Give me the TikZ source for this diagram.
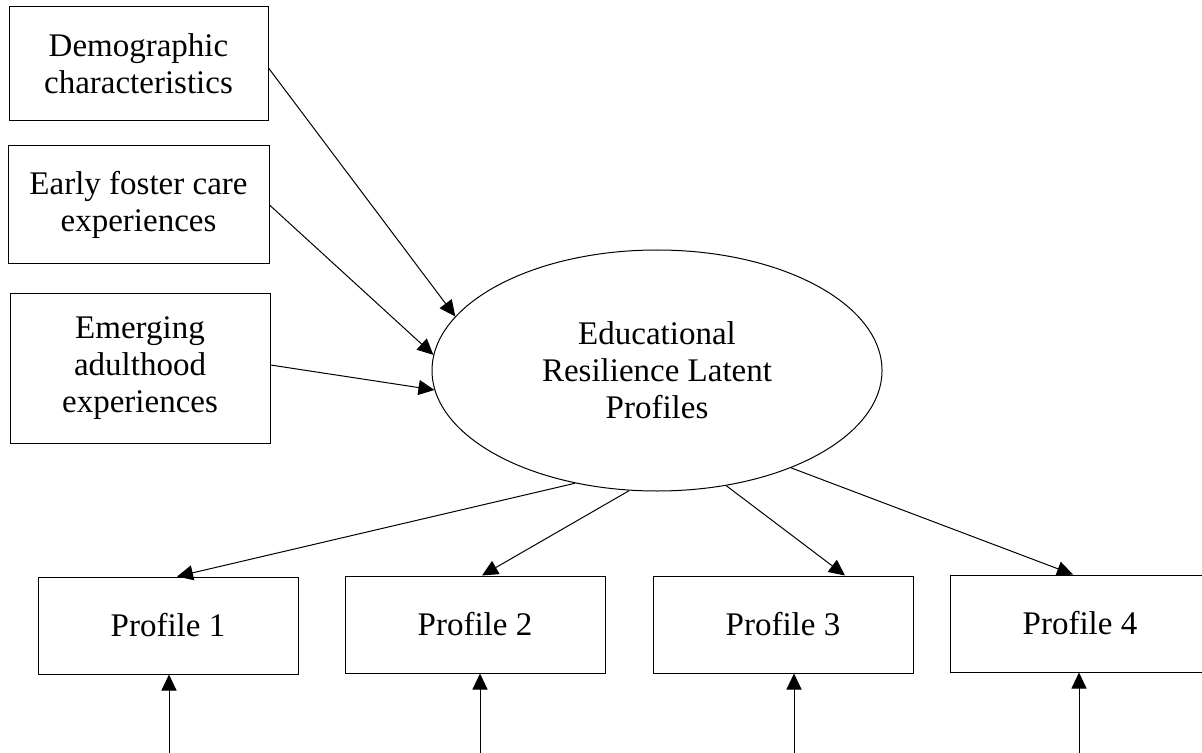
\documentclass[tikz,border=0pt]{standalone}
\usepackage{fontspec}
\setmainfont{Liberation Serif}
\usepackage{tikz}
\usetikzlibrary{arrows.meta,positioning,calc,shapes.geometric}

\begin{document}
\begin{tikzpicture}[x=0.5pt,y=-0.5pt,
    font=\fontsize{16.5}{18.6}\selectfont,
    predbox/.style={draw,rectangle,align=center,inner sep=0pt,line width=0.5pt},
    profbox/.style={draw,rectangle,inner sep=0pt,line width=0.5pt,
      minimum width=130pt,minimum height=48.5pt},
    latent/.style={draw,ellipse,align=center,inner sep=0pt,line width=0.5pt,
      minimum width=225pt,minimum height=120.5pt},
    link/.style={line width=0.5pt,-{Triangle[length=8pt,width=7.5pt]}}]
  \useasboundingbox (0,0) rectangle (1202,753);
  % predictors
  \node[predbox,minimum width=129.5pt,minimum height=57pt] (demo) at (138.5,64)
    {Demographic\\characteristics};
  \node[predbox,minimum width=130.5pt,minimum height=59pt] (early) at (138.5,205)
    {Early foster care\\experiences};
  \node[predbox,minimum width=130pt,minimum height=75pt] (emerg) at (140,368)
    {Emerging\\adulthood\\experiences};
  % latent profiles
  \node[latent] (erlp) at (657,370.5) {Educational\\Resilience Latent\\Profiles};
  % profile boxes
  \node[profbox] (p1) at (168,625.5) {Profile 1};
  \node[profbox] (p2) at (475,624.5) {Profile 2};
  \node[profbox] (p3) at (783,624.5) {Profile 3};
  \node[profbox] (p4) at (1080,623.5) {Profile 4};
  % predictors -> latent
  \draw[link] ([yshift=-2pt]demo.east) -- (erlp.165.25);
  \draw[link] (early.east) -- (erlp.176);
  \draw[link] ([yshift=1.5pt]emerg.east) -- (erlp.185.2);
  % latent -> profiles
  \draw[link] (erlp.234.3) -- ([xshift=4.5pt]p1.north);
  \draw[link] (erlp.257.3) -- ([xshift=3.5pt]p2.north);
  \draw[link] (erlp.301.6) -- ([xshift=31pt]p3.north);
  \draw[link] (erlp.324.8) -- ([xshift=-3.5pt]p4.north);
  % arrows from below
  \coordinate (b1) at (169,753);
  \coordinate (b2) at (480,753);
  \coordinate (b3) at (794,753);
  \coordinate (b4) at (1079,753);
  \draw[link] (b1) -- (b1 |- p1.south);
  \draw[link] (b2) -- (b2 |- p2.south);
  \draw[link] (b3) -- (b3 |- p3.south);
  \draw[link] (b4) -- (b4 |- p4.south);
\end{tikzpicture}
\end{document}
